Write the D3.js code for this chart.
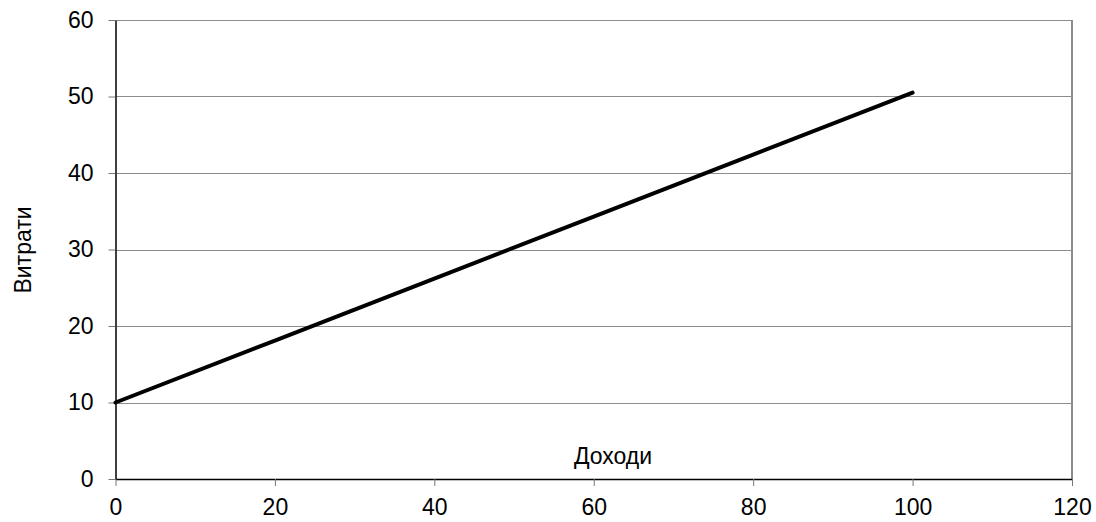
<!DOCTYPE html>
<html><head><meta charset="utf-8">
<script src="https://cdn.jsdelivr.net/npm/d3@7"></script>
<style>body{margin:0;background:#fff}svg{display:block}text{font-family:"Liberation Sans",Arial,sans-serif}</style>
</head><body><svg id="c" width="1096" height="522"></svg>
<script>
const incomeX = [0, 20, 40, 60, 80, 100];
const spendY = [10, 18.1, 26.2, 34.3, 42.4, 50.5];
const xTicks = [0, 20, 40, 60, 80, 100, 120];
const yTicks = [0, 10, 20, 30, 40, 50, 60];
const xTitle = "Доходи";
const yTitle = "Витрати";

const svg = d3.select("#c");
const L = 115.5, R = 1072, T = 20, B = 479;
const x = d3.scaleLinear().domain([0, 120]).range([L, R]);
const y = d3.scaleLinear().domain([0, 60]).range([B, T]);

// gridlines
svg.append("g").selectAll("line").data(yTicks.filter(d => d > 0)).join("line")
  .attr("x1", L).attr("x2", R).attr("y1", d => Math.round(y(d)) + 0.5).attr("y2", d => Math.round(y(d)) + 0.5)
  .attr("stroke", "#8c8c8c").attr("stroke-width", 1);
// right border
svg.append("line").attr("x1", R).attr("x2", R).attr("y1", T).attr("y2", B)
  .attr("stroke", "#8c8c8c").attr("stroke-width", 2);

const fs = "23px";
const ff = '"Liberation Sans",Arial,sans-serif';
const xAxis = d3.axisBottom(x).tickValues(xTicks).tickSize(7).tickSizeOuter(0).tickPadding(13);
const gx = svg.append("g").attr("transform", `translate(0,${B})`).call(xAxis);
gx.attr("font-size", fs).attr("font-family", ff);
gx.select(".domain").attr("stroke", "#000").attr("stroke-width", 1.5);
gx.selectAll(".tick line").attr("stroke", "#777");
gx.selectAll("text").attr("fill", "#000");

const yAxis = d3.axisLeft(y).tickValues(yTicks).tickSize(7).tickSizeOuter(0).tickPadding(15);
const gy = svg.append("g").attr("transform", `translate(${L},0)`).call(yAxis);
gy.attr("font-size", fs).attr("font-family", ff);
gy.select(".domain").attr("stroke", "#000").attr("stroke-width", 1.5);
gy.selectAll(".tick line").attr("stroke", "#777");
gy.selectAll("text").attr("fill", "#000");

// line
const pts = incomeX.map((v, i) => [v, spendY[i]]);
svg.append("path").datum(pts)
  .attr("d", d3.line().x(d => x(d[0])).y(d => y(d[1])))
  .attr("fill", "none").attr("stroke", "#000").attr("stroke-width", 4).attr("stroke-linecap", "round");

// titles
svg.append("text").attr("x", 613).attr("y", 464).attr("text-anchor", "middle")
  .attr("font-size", fs).text(xTitle);
svg.append("text").attr("transform", `translate(31,250) rotate(-90)`).attr("text-anchor", "middle")
  .attr("font-size", fs).text(yTitle);
</script></body></html>
